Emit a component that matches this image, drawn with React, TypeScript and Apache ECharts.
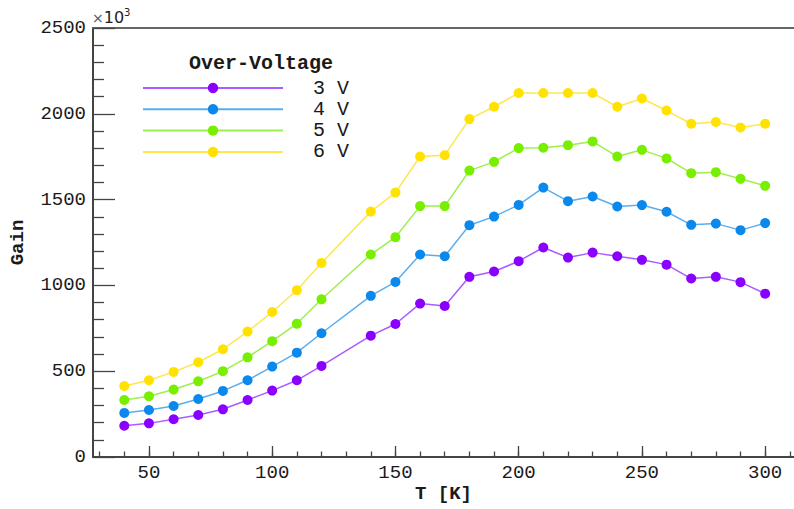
import React, { useEffect, useRef } from "react";
import * as echarts from "echarts";

const temperatures = [40, 50, 60, 70, 80, 90, 100, 110, 120, 140, 150, 160, 170, 180, 190, 200, 210, 220, 230, 240, 250, 260, 270, 280, 290, 300];
const gain3V = [182, 196, 220, 245, 278, 332, 387, 447, 531, 707, 775, 894, 880, 1050, 1081, 1141, 1221, 1162, 1191, 1170, 1149, 1121, 1040, 1050, 1019, 952];
const gain4V = [257, 274, 297, 338, 385, 447, 527, 608, 721, 939, 1020, 1180, 1170, 1351, 1401, 1469, 1570, 1491, 1518, 1460, 1468, 1429, 1353, 1360, 1322, 1363];
const gain5V = [332, 354, 393, 441, 500, 581, 675, 777, 919, 1180, 1281, 1462, 1462, 1669, 1720, 1800, 1802, 1817, 1839, 1751, 1790, 1740, 1654, 1660, 1621, 1580];
const gain6V = [414, 447, 496, 552, 628, 731, 845, 972, 1131, 1430, 1541, 1751, 1759, 1969, 2041, 2121, 2121, 2121, 2121, 2041, 2089, 2019, 1942, 1952, 1920, 1942];

const seriesNames = ["3 V", "4 V", "5 V", "6 V"];
const markerColors = ["#8a00ff", "#0a88ec", "#78ee00", "#ffe200"];
const lineColors = ["#a95cff", "#5aaef0", "#9cef4c", "#ffe650"];
const xMinorTicks = [30, 40, 50, 60, 70, 80, 90, 100, 110, 120, 130, 140, 150, 160, 170, 180, 190, 200, 210, 220, 230, 240, 250, 260, 270, 280, 290, 300, 310];
const xMajorTicks = [50, 100, 150, 200, 250, 300];

const FONT = "'Liberation Mono', 'DejaVu Sans Mono', monospace";

export default function App() {
  const ref = useRef<HTMLDivElement>(null);
  useEffect(() => {
    if (!ref.current) return;
    const chart = echarts.init(ref.current, null, { renderer: "svg" });
    const allData = [gain3V, gain4V, gain5V, gain6V];
    const xBase = { type: "value", min: 27.3, max: 311.7, splitLine: { show: false } };
    const tickStyle = { color: "#444", width: 1.3 };
    const labelText = { fontFamily: FONT, fontSize: 19, color: "#1a1a1a" };
    chart.setOption({
      animation: false,
      backgroundColor: "#ffffff",
      grid: { left: 93, top: 28, right: 0, bottom: 52, containLabel: false, outerBoundsMode: "none" },
      xAxis: [
        {
          ...xBase,
          position: "bottom",
          name: "T [K]",
          nameLocation: "middle",
          nameGap: 27,
          nameMoveOverlap: false,
          nameTextStyle: { ...labelText, fontWeight: "bold" },
          axisLine: { show: true, onZero: false, lineStyle: { color: "#444", width: 2 } },
          axisTick: { show: true, inside: true, length: 5.5, customValues: xMinorTicks, lineStyle: tickStyle },
          axisLabel: { show: true, customValues: xMajorTicks, margin: 6, ...labelText },
        },
        {
          ...xBase,
          position: "bottom",
          axisLine: { show: false, onZero: false },
          axisTick: { show: true, inside: true, length: 11, customValues: xMajorTicks, lineStyle: tickStyle },
          axisLabel: { show: false },
        },
        {
          ...xBase,
          position: "top",
          axisLine: { show: true, onZero: false, lineStyle: { color: "#666", width: 2 } },
          axisTick: { show: false },
          axisLabel: { show: false },
        },
      ],
      yAxis: {
        type: "value",
        min: 0,
        max: 2500,
        interval: 500,
        name: "Gain",
        nameLocation: "middle",
        nameGap: 66,
        nameMoveOverlap: false,
        nameRotate: 90,
        nameTextStyle: { ...labelText, fontWeight: "bold" },
        splitLine: { show: false },
        axisLine: { show: true, onZero: false, lineStyle: { color: "#444", width: 2 } },
        axisTick: { show: true, inside: true, length: 22, lineStyle: tickStyle },
        minorTick: { show: true, splitNumber: 5, length: 11, lineStyle: tickStyle },
        axisLabel: { margin: 7, ...labelText, formatter: (v: number) => String(v) },
      },
      legend: {
        data: seriesNames,
        orient: "vertical",
        left: 137,
        top: 73,
        itemWidth: 140,
        itemHeight: 13,
        itemGap: 1.3,
        textStyle: { ...labelText, fontSize: 20, lineHeight: 18, padding: [0, 0, 0, 25] },
      },
      graphic: [
        {
          type: "text",
          left: 189,
          top: 53,
          style: { text: "Over-Voltage", fontFamily: FONT, fontSize: 20, fontWeight: "bold", fill: "#1a1a1a" },
        },
        {
          type: "text",
          left: 92,
          top: 7,
          style: {
            text: "{a|×}{b|10}{c|3}",
            rich: {
              a: { fontFamily: "DejaVu Sans", fontSize: 14, fill: "#555", verticalAlign: "bottom" },
              b: { fontFamily: "DejaVu Sans", fontSize: 16, fill: "#222", verticalAlign: "bottom" },
              c: { fontFamily: "DejaVu Sans", fontSize: 10, fill: "#222", verticalAlign: "top", padding: [0, 0, 8, 0] },
            },
          },
        },
      ],
      series: seriesNames.map((name, i) => ({
        name,
        type: "line",
        xAxisIndex: 0,
        yAxisIndex: 0,
        data: temperatures.map((t, j) => [t, allData[i][j]]),
        symbol: "circle",
        symbolSize: 10,
        itemStyle: { color: markerColors[i] },
        lineStyle: { color: lineColors[i], width: 1.5 },
      })),
    });
    return () => chart.dispose();
  }, []);
  return <div ref={ref} style={{ position: "fixed", left: 0, top: 0, width: 794, height: 509 }} />;
}
